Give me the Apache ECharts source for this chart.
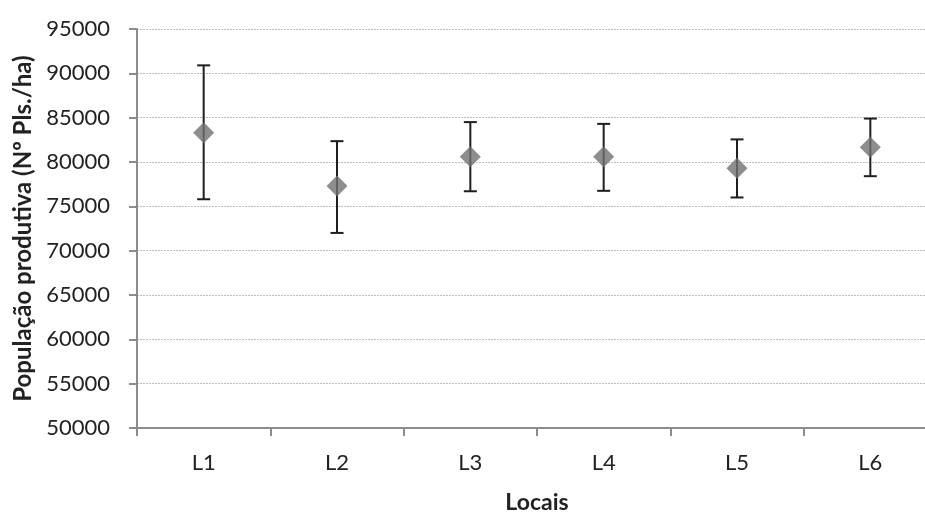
<!DOCTYPE html>
<html>
<head>
<meta charset="utf-8">
<script src="https://cdn.jsdelivr.net/npm/echarts@6/dist/echarts.min.js"></script>
<style>html,body{margin:0;padding:0;background:#fff}#c{width:925px;height:514px}</style>
</head>
<body>
<div id="c"></div>
<script>
const categories = ['L1','L2','L3','L4','L5','L6'];
const means = [83300, 77300, 80600, 80600, 79300, 81650];
const upper = [90900, 82350, 84500, 84300, 82550, 84900];
const lower = [75800, 72000, 76700, 76750, 76000, 78400];
const yTicks = {min: 50000, max: 95000, interval: 5000};

const FONT = 'Lato';
const chart = echarts.init(document.getElementById('c'));
chart.setOption({
  animation: false,
  backgroundColor: '#fff',
  grid: {left: 137, top: 29, width: 800, height: 399, containLabel: false, outerBoundsMode: 'none'},
  xAxis: {
    type: 'category', data: categories, boundaryGap: true,
    name: 'Locais', nameLocation: 'middle', nameGap: 63,
    nameTextStyle: {fontFamily: FONT, fontWeight: 'bold', fontSize: 23, color: '#222'},
    axisLine: {lineStyle: {color: '#8c8c8c', width: 2}},
    axisTick: {show: true, length: 8, inside: false, lineStyle: {color: '#8c8c8c', width: 2}, alignWithLabel: false},
    axisLabel: {fontFamily: FONT, fontSize: 22, color: '#222', margin: 24},
    splitLine: {show: false}
  },
  yAxis: {
    type: 'value', min: yTicks.min, max: yTicks.max, interval: yTicks.interval,
    name: 'População produtiva (Nº Pls./ha)', nameLocation: 'middle', nameGap: 102,
    nameTextStyle: {fontFamily: FONT, fontWeight: 'bold', fontSize: 24, color: '#222'},
    axisLine: {show: true, lineStyle: {color: '#8c8c8c', width: 2}},
    axisTick: {show: true, length: 8, lineStyle: {color: '#8c8c8c', width: 2}},
    axisLabel: {fontFamily: FONT, fontSize: 22, color: '#222', margin: 27, formatter: v => String(v)},
    splitLine: {show: true, lineStyle: {color: '#bdbdbd', type: [2, 1], width: 1}}
  },
  series: [
    {
      type: 'custom',
      data: categories.map((c, i) => [i, lower[i], upper[i]]),
      renderItem: function (params, api) {
        const x = api.value(0);
        const lo = api.coord([x, api.value(1)]);
        const hi = api.coord([x, api.value(2)]);
        const hw = 6.5;
        const st = {stroke: '#1e1e1e', lineWidth: 2};
        return {type: 'group', children: [
          {type: 'line', shape: {x1: lo[0], y1: lo[1], x2: hi[0], y2: hi[1]}, style: st},
          {type: 'line', shape: {x1: lo[0]-hw, y1: lo[1], x2: lo[0]+hw, y2: lo[1]}, style: st},
          {type: 'line', shape: {x1: hi[0]-hw, y1: hi[1], x2: hi[0]+hw, y2: hi[1]}, style: st}
        ]};
      },
      z: 2
    },
    {
      type: 'scatter', data: means, symbol: 'diamond', symbolSize: [21, 21],
      itemStyle: {color: '#717171'}, z: 3
    }
  ]
});
</script>
</body>
</html>
